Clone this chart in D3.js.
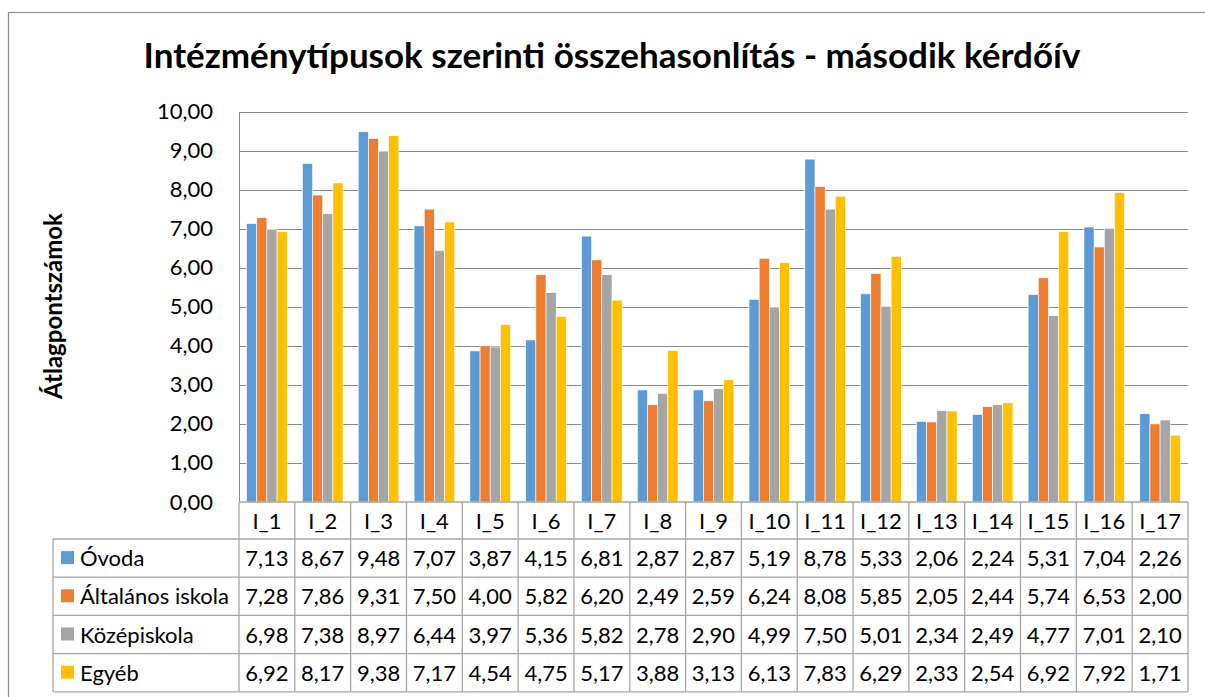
<!DOCTYPE html>
<html>
<head>
<meta charset="utf-8">
<script src="https://cdn.jsdelivr.net/npm/d3@7"></script>
<style>
  html, body { margin: 0; padding: 0; background: #fff; }
  svg { display: block; }
  text { font-family: Lato, "Open Sans", sans-serif; fill: #000; }
</style>
</head>
<body>
<svg id="chart" width="1205" height="697"></svg>
<script>
const categories = ["I_1","I_2","I_3","I_4","I_5","I_6","I_7","I_8","I_9","I_10","I_11","I_12","I_13","I_14","I_15","I_16","I_17"];
const seriesNames = ["Óvoda","Általános iskola","Középiskola","Egyéb"];
const ovoda      = [7.13,8.67,9.48,7.07,3.87,4.15,6.81,2.87,2.87,5.19,8.78,5.33,2.06,2.24,5.31,7.04,2.26];
const altalanos  = [7.28,7.86,9.31,7.50,4.00,5.82,6.20,2.49,2.59,6.24,8.08,5.85,2.05,2.44,5.74,6.53,2.00];
const kozep      = [6.98,7.38,8.97,6.44,3.97,5.36,5.82,2.78,2.90,4.99,7.50,5.01,2.34,2.49,4.77,7.01,2.10];
const egyeb      = [6.92,8.17,9.38,7.17,4.54,4.75,5.17,3.88,3.13,6.13,7.83,6.29,2.33,2.54,6.92,7.92,1.71];
const yTicks = [0,1,2,3,4,5,6,7,8,9,10];
const colors = ["#5B9BD5","#ED7D31","#A5A5A5","#FFC000"];

const series = [ovoda, altalanos, kozep, egyeb];
const fmt = v => v.toFixed(2).replace(".", ",");

const svg = d3.select("#chart");
const L = 239, R = 1188, T = 111.5, B = 502;
const tableLeft = 53, headerBottom = 539, rowH = 38.2;
const fs = "22px";

// outer chart frame
svg.append("rect").attr("x", 8.5).attr("y", 12.5).attr("width", 1205).attr("height", 700)
  .attr("fill", "none").attr("stroke", "#8c8c8c").attr("stroke-width", 1.2);

// title
svg.append("text").attr("x", 612).attr("y", 68).attr("text-anchor", "middle")
  .style("font-weight", "bold").style("font-size", "35px")
  .text("Intézménytípusok szerinti összehasonlítás - második kérdőív");

const x0 = d3.scaleBand().domain(categories).range([L, R]).paddingInner(0).paddingOuter(0);
const bw = x0.bandwidth() / 5.5;
const x1 = d3.scaleBand().domain(d3.range(4)).range([bw * 0.75, bw * 4.75]).padding(0);
const y = d3.scaleLinear().domain([0, 10]).range([B, T]);

// gridlines
svg.append("g").selectAll("line").data(yTicks.filter(t => t > 0)).join("line")
  .attr("x1", L).attr("x2", R).attr("y1", d => Math.round(y(d)) + 0.5).attr("y2", d => Math.round(y(d)) + 0.5)
  .attr("stroke", "#8c8c8c").attr("stroke-width", 1);

// y axis
const yAxis = svg.append("g").attr("transform", `translate(${L},0)`)
  .call(d3.axisLeft(y).tickValues(yTicks).tickFormat(fmt).tickSize(0).tickPadding(26));
yAxis.select(".domain").attr("stroke", "#8c8c8c");
yAxis.selectAll("text").style("font-size", fs).style("font-family", "Lato, sans-serif").attr("fill", "#000");

// bars
const groups = svg.append("g").selectAll("g").data(categories).join("g")
  .attr("transform", c => `translate(${x0(c)},0)`);
groups.selectAll("rect").data((c, i) => series.map((s, k) => ({ k, v: s[i] }))).join("rect")
  .attr("x", d => x1(d.k)).attr("width", x1.bandwidth())
  .attr("y", d => y(d.v)).attr("height", d => y(0) - y(d.v))
  .attr("fill", d => colors[d.k]).attr("stroke", "#fff").attr("stroke-width", 0.6);

// data table
const tg = svg.append("g");
const lineColor = "#a6a6a6";
const hLines = [B, headerBottom];
for (let r = 1; r <= 4; r++) hLines.push(headerBottom + r * rowH);
hLines.forEach((yy, i) => {
  tg.append("line").attr("x1", i === 0 ? L : tableLeft).attr("x2", R)
    .attr("y1", yy).attr("y2", yy).attr("stroke", lineColor).attr("stroke-width", 1.3);
});
const colEdges = categories.map(c => x0(c)).concat([R]);
const tableBottom = headerBottom + 4 * rowH;
colEdges.forEach(xx => {
  tg.append("line").attr("x1", xx).attr("x2", xx).attr("y1", B).attr("y2", tableBottom)
    .attr("stroke", lineColor).attr("stroke-width", 1.3);
});
tg.append("line").attr("x1", tableLeft).attr("x2", tableLeft).attr("y1", headerBottom).attr("y2", tableBottom)
  .attr("stroke", lineColor).attr("stroke-width", 1.3);

// category labels
tg.selectAll("text.cat").data(categories).join("text").attr("class", "cat")
  .attr("x", c => x0(c) + x0.bandwidth() / 2).attr("y", (B + headerBottom) / 2 + 8)
  .attr("text-anchor", "middle").style("font-size", fs).text(c => c);

// series rows with legend keys
series.forEach((s, k) => {
  const cy = headerBottom + k * rowH + rowH / 2;
  tg.append("rect").attr("x", 61).attr("y", cy - 7).attr("width", 13).attr("height", 13).attr("fill", colors[k]);
  tg.append("text").attr("x", 80).attr("y", cy + 8).style("font-size", fs).text(seriesNames[k]);
  tg.selectAll(null).data(s).join("text")
    .attr("x", (v, i) => x0(categories[i]) + x0.bandwidth() / 2).attr("y", cy + 8)
    .attr("text-anchor", "middle").style("font-size", fs).text(fmt);
});

// y axis title
svg.append("text").attr("transform", "translate(62,306) rotate(-90)").attr("text-anchor", "middle")
  .style("font-weight", "bold").style("font-size", "24px").text("Átlagpontszámok");
</script>
</body>
</html>
